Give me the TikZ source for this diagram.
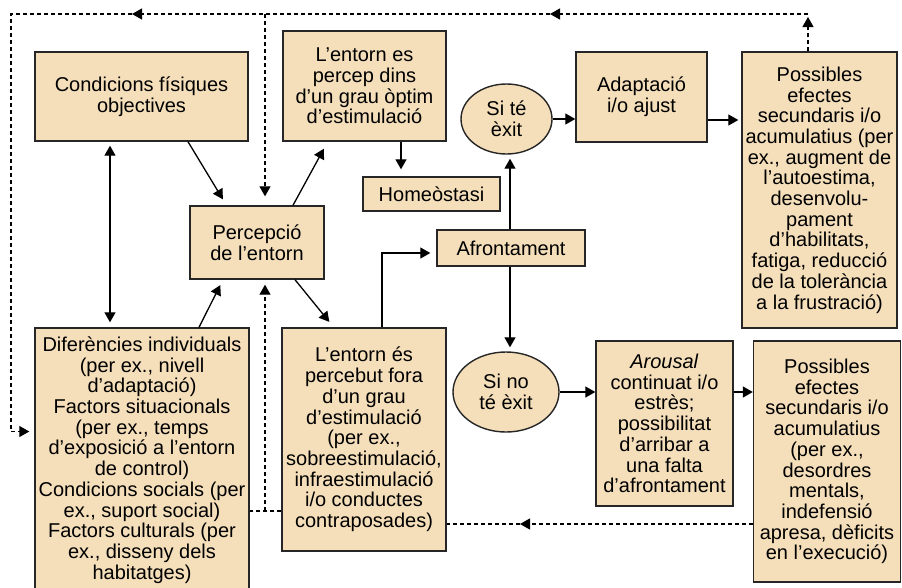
\documentclass[tikz,border=0pt]{standalone}
\usepackage{fontspec}
\setmainfont{Liberation Sans}
\usetikzlibrary{arrows.meta,shapes.geometric,calc}
\definecolor{boxfill}{HTML}{F5DFBA}
\begin{document}
\begin{tikzpicture}[x=1pt,y=-1pt,
  box/.style={draw=black!85, fill=boxfill, line width=1.4pt, align=center, inner sep=0pt,
    font=\fontsize{20}{20.7}\selectfont, minimum width=#1},
  oval/.style={ellipse, draw=black!85, fill=boxfill, line width=1.4pt, align=center, inner sep=0pt,
    font=\fontsize{20}{20.7}\selectfont},
  conn/.style={line width=1.3pt, -{Triangle[length=10pt,width=11pt]}},
  conn2/.style={line width=1.3pt, {Triangle[length=10pt,width=11pt]}-{Triangle[length=10pt,width=11pt]}},
  dsh/.style={line width=1.2pt, dash pattern=on 4pt off 3pt},
  darr/.style={line width=1.2pt, dash pattern=on 4pt off 3pt, -{Triangle[length=10pt,width=11pt]}}
]
\useasboundingbox (0,0) rectangle (902,587);

% boxes
\node[box=213pt, minimum height=89pt] (cond) at (141.5,96.5) {Condicions físiques\\objectives};
\node[box=163pt, minimum height=110pt] (opt) at (364.5,86) {L’entorn es\\percep dins\\d’un grau òptim\\d’estimulació};
\node[box=137pt, minimum height=34pt] (homeo) at (431.5,194) {Homeòstasi};
\node[box=134pt, minimum height=73pt] (perc) at (257,242.5) {Percepció\\de l’entorn};
\node[box=148pt, minimum height=36pt] (afr) at (511,248) {Afrontament};
\node[oval, minimum width=91pt, minimum height=70pt] (exit) at (506.5,119) {Si té\\èxit};
\node[box=131pt, minimum height=90pt] (adapt) at (641.5,97) {Adaptació\\i/o ajust};
\node[box=155pt, minimum height=276pt] (pos1) at (819.5,190) {Possibles\\efectes\\secundaris i/o\\acumulatius (per\\ex., augment de\\l’autoestima,\\desenvolu-\\pament\\d’habilitats,\\fatiga, reducció\\de la tolerància\\a la frustració)};
\node[box=214pt, minimum height=264pt] (dif) at (142,460) {Diferències individuals\\(per ex., nivell\\d’adaptació)\\Factors situacionals\\(per ex., temps\\d’exposició a l’entorn\\de control)\\Condicions socials (per\\ex., suport social)\\Factors culturals (per\\ex., disseny dels\\habitatges)};
\node[box=164pt, minimum height=223pt] (fora) at (364,439.5) {L’entorn és\\percebut fora\\d’un grau\\d’estimulació\\(per ex.,\\sobreestimulació,\\infraestimulació\\i/o conductes\\contraposades)};
\node[oval, minimum width=106pt, minimum height=80pt] (noexit) at (506,392) {Si no\\té èxit};
\node[box=137pt, minimum height=165pt] (arousal) at (664.5,423.5) {\textit{Arousal}\\continuat i/o\\estrès;\\possibilitat\\d’arribar a\\una falta\\d’afrontament};
\node[box=147pt, minimum height=241pt] (pos2) at (827,461.5) {Possibles\\efectes\\secundaris i/o\\acumulatius\\(per ex.,\\desordres\\mentals,\\indefensió\\apresa, dèficits\\en l’execució)};

% helper coordinates for dashed feedback lines
\coordinate (tr) at (808,14);
\coordinate (ma1) at (550,14);
\coordinate (mt) at (265,14);
\coordinate (ma2) at (132,14);
\coordinate (tl) at (11,14);
\coordinate (mb) at (520,524);
\coordinate (ml) at (265,511);

% solid connectors
\draw[conn2, shorten <=4pt, shorten >=5pt] ([xshift=-31.5pt]cond.south) -- ([xshift=-32pt]dif.north);
\draw[conn, shorten >=7pt] ([xshift=46.5pt]cond.south) -- ([xshift=-30.5pt]perc.north);
\draw[conn, shorten >=8pt] ([xshift=36pt]perc.north) -- ([xshift=-36.8pt]opt.south);
\draw[conn, shorten >=7pt] ([xshift=36.5pt]opt.south) -- ([xshift=-30.5pt]homeo.north);
\draw[conn, shorten >=6pt] ([xshift=57pt]dif.north) -- ([xshift=-34pt]perc.south);
\draw[conn, shorten >=7pt] ([xshift=38pt]perc.south) -- ([xshift=-30.3pt]fora.north);
\draw[conn, shorten >=6pt] ([xshift=18pt]fora.north) |- ([yshift=-5pt]afr.west);
\draw[conn, shorten >=4pt] ([xshift=-1pt]afr.north) -- ([xshift=3.5pt]exit.south);
\draw[conn, shorten >=4pt] ([xshift=-1pt]afr.south) -- ([xshift=4pt]noexit.north);
\draw[conn] (exit.east) -- (exit.east -| adapt.west);
\draw[conn, shorten >=3pt] ([yshift=-23pt]adapt.east) -- ([yshift=-23pt]adapt.east -| pos1.west);
\draw[conn] (noexit.east) -- (noexit.east -| arousal.west);
\draw[conn] (noexit.east -| arousal.east) -- (noexit.east -| pos2.west);

% dashed feedback connectors
\draw[darr] ([xshift=-11.5pt]pos1.north) -- ([yshift=-3pt]tr);
\draw[darr] (tr) -- (ma1);
\draw[darr] (ma1) -- (ma2);
\draw[darr, shorten >=5pt] (ma2) -- (tl) |- ([yshift=28.5pt]dif.west);
\draw[darr, shorten >=9pt] (mt) -- ([xshift=8pt]perc.north);
\draw[darr] ([yshift=-62.5pt]pos2.west) -- (mb);
\draw[dsh] (mb) -- (mb -| fora.east);
\draw[dsh] ([yshift=-71.5pt]fora.west) -- ([yshift=-51pt]dif.east);
\draw[darr, shorten >=5pt] (ml) -- ([xshift=8pt]perc.south);
\end{tikzpicture}
\end{document}
